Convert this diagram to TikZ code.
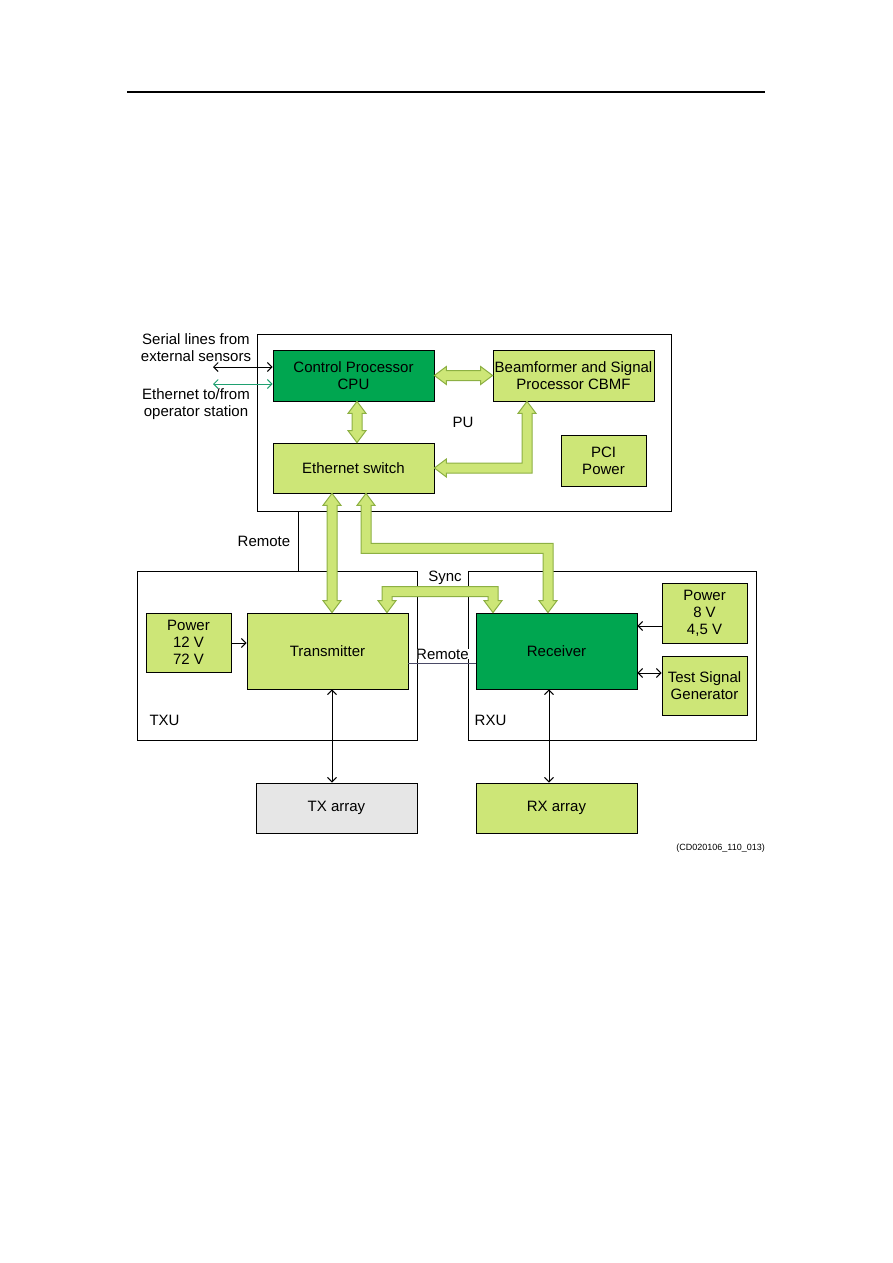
\documentclass[tikz,border=0pt]{standalone}
\usepackage{fontspec}
\setmainfont{Liberation Sans}
\usetikzlibrary{arrows.meta,calc}
\definecolor{lgreen}{HTML}{CDE677}
\definecolor{dgreen}{HTML}{00A650}
\definecolor{fatedge}{HTML}{8DB043}
\definecolor{ethgreen}{HTML}{1FA070}
\definecolor{txgray}{HTML}{E6E6E6}
\definecolor{remotec}{HTML}{4A4A66}
% vertical double fat arrow: #1 upper tip, #2 lower tip (x from #1)
\newcommand\fatV[2]{\path[fat] let \p1=#1, \p2=#2 in
  (\x1,\y1) -- (\x1+9pt,\y1-12pt) -- (\x1+5pt,\y1-12pt) -- (\x1+5pt,\y2+12pt) -- (\x1+9pt,\y2+12pt)
  -- (\x1,\y2) -- (\x1-9pt,\y2+12pt) -- (\x1-5pt,\y2+12pt) -- (\x1-5pt,\y1-12pt) -- (\x1-9pt,\y1-12pt) -- cycle;}
% horizontal double fat arrow: #1 left tip, #2 right tip (y from #1)
\newcommand\fatH[2]{\path[fat] let \p1=#1, \p2=#2 in
  (\x1,\y1) -- (\x1+12pt,\y1+9pt) -- (\x1+12pt,\y1+5pt) -- (\x2-12pt,\y1+5pt) -- (\x2-12pt,\y1+9pt)
  -- (\x2,\y1) -- (\x2-12pt,\y1-9pt) -- (\x2-12pt,\y1-5pt) -- (\x1+12pt,\y1-5pt) -- (\x1+12pt,\y1-9pt) -- cycle;}
\begin{document}
\begin{tikzpicture}[x=1pt,y=-1pt,
  every node/.style={font=\fontsize{15}{17}\selectfont},
  box/.style={draw=black,line width=0.8pt,align=center,inner sep=0pt},
  lbox/.style={box,fill=lgreen},
  dbox/.style={box,fill=dgreen},
  frame/.style={draw=black,line width=0.8pt,inner sep=0pt},
  fat/.style={fill=lgreen,draw=fatedge,line width=1pt,line join=miter},
  thin/.style={line width=1pt,{Straight Barb[length=4.5pt,width=9pt]}-{Straight Barb[length=4.5pt,width=9pt]}},
  thinr/.style={line width=1pt,-{Straight Barb[length=4.5pt,width=9pt]}},
  lbl/.style={inner sep=0pt,align=center}]
\useasboundingbox[fill=white] (0,0) rectangle (893,1263);

% top rule
\coordinate (ruleL) at (127,92);
\coordinate (ruleR) at (765,92);
\draw[line width=1.2pt] (ruleL) -- (ruleR);

% frames
\node[frame,minimum width=414pt,minimum height=177pt] (pu) at (464,422.5) {};
\node[frame,minimum width=280pt,minimum height=169pt] (txu) at (277,655.5) {};
\node[frame,minimum width=288pt,minimum height=169pt] (rxu) at (612,655.5) {};

% boxes in PU
\node[dbox,minimum width=161pt,minimum height=51pt] (cpu) at (353.5,375.5) {Control Processor\\CPU};
\node[lbox,minimum width=161pt,minimum height=51pt] (cbmf) at (573.5,375.5) {Beamformer and Signal\\Processor CBMF};
\node[lbox,minimum width=161pt,minimum height=50pt] (eth) at (353.5,468) {Ethernet switch};
\node[lbox,minimum width=85pt,minimum height=51pt] (pci) at (603.5,460.5) {PCI\\Power};
\node[lbl] (pulbl) at (463,422) {PU};

% TXU
\node[lbox,minimum width=85pt,minimum height=59pt] (pw12) at (188.5,642.5) {Power\\12 V\\72 V};
\node[lbox,minimum width=161pt,minimum height=76pt] (tx) at (327.5,651) {Transmitter};
\node[lbl] (txulbl) at (164.5,720) {TXU};

% RXU
\node[dbox,minimum width=161pt,minimum height=76pt] (rx) at (556.5,651) {Receiver};
\node[lbox,minimum width=85pt,minimum height=60pt] (pw8) at (704.5,613) {Power\\8 V\\4,5 V};
\node[lbox,minimum width=85pt,minimum height=59pt] (tsg) at (704.5,685.5) {Test Signal\\Generator};
\node[lbl] (rxulbl) at (490.5,720) {RXU};

% arrays
\node[box,fill=txgray,minimum width=161pt,minimum height=50pt] (txa) at (336.5,808) {TX array};
\node[lbox,minimum width=161pt,minimum height=50pt] (rxa) at (556.5,808) {RX array};

% external inputs
\node[lbl] (serial) at (196,347.5) {Serial lines from\\external sensors};
\node[lbl] (ethop) at (196,404.5) {Ethernet to/from\\operator station};
\coordinate (serL) at (213,367);
\coordinate (ethL) at (213,384);
\draw[thin] (serL) -- (serL -| cpu.west);
\draw[thin,ethgreen] (ethL) -- (ethL -| cpu.west);

% remote lines
\draw[line width=0.8pt] ([xshift=-166pt]pu.south) -- ([xshift=-166pt]pu.south |- txu.north);
\node[lbl] (rem1) at (264,541) {Remote};
\draw[line width=0.8pt,remotec] ([yshift=-12pt]tx.east) -- ([yshift=-12pt]tx.east -| rx.west);
\node[lbl,fill=white,inner xsep=0.5pt] (rem2) at (442.5,654) {Remote};

% thin arrows inside units
\draw[thinr] (pw12.east |- 0,643) -- (tx.west |- 0,643);
\draw[thinr] ([yshift=-13pt]pw8.west) -- ([yshift=-13pt]pw8.west -| rx.east);
\draw[thin] ([yshift=12.5pt]tsg.west -| rx.east) -- ([yshift=12.5pt]tsg.west);
\draw[thin] ([xshift=4.5pt]tx.south) -- ([xshift=4.5pt]tx.south |- txa.north);
\draw[thin] ([xshift=-7.5pt]rx.south) -- ([xshift=-7.5pt]rx.south |- rxa.north);

% fat arrows
\fatH{(cpu.east)}{(cbmf.west)}
\fatV{([xshift=3.5pt]cpu.south)}{([xshift=3.5pt]eth.north)}
% CBMF <-> Ethernet switch
\path[fat] let \p1=([xshift=-46.5pt]cbmf.south), \p2=(eth.east) in
  (\x1,\y1) -- (\x1+9pt,\y1-12pt) -- (\x1+5pt,\y1-12pt) -- (\x1+5pt,\y2-5pt) -- (\x2+12pt,\y2-5pt)
  -- (\x2+12pt,\y2-9pt) -- (\x2,\y2) -- (\x2+12pt,\y2+9pt) -- (\x2+12pt,\y2+5pt) -- (\x1-5pt,\y2+5pt)
  -- (\x1-5pt,\y1-12pt) -- (\x1-9pt,\y1-12pt) -- cycle;
% Ethernet switch <-> Transmitter
\fatV{([xshift=-21.5pt]eth.south)}{([xshift=-21.5pt]eth.south |- tx.north)}
% Ethernet switch <-> Receiver
\path[fat] let \p1=([xshift=12.5pt]eth.south), \p2=([xshift=-8.5pt]rx.north), \p3=([yshift=-55pt]eth.south) in
  (\x1,\y1) -- (\x1+9pt,\y1-12pt) -- (\x1+5pt,\y1-12pt) -- (\x1+5pt,\y3+5pt) -- (\x2+5pt,\y3+5pt)
  -- (\x2+5pt,\y2+12pt) -- (\x2+9pt,\y2+12pt) -- (\x2,\y2) -- (\x2-9pt,\y2+12pt) -- (\x2-5pt,\y2+12pt)
  -- (\x2-5pt,\y3-5pt) -- (\x1-5pt,\y3-5pt) -- (\x1-5pt,\y1-12pt) -- (\x1-9pt,\y1-12pt) -- cycle;
% Sync: Transmitter <-> Receiver
\path[fat] let \p1=([xshift=59.5pt]tx.north), \p2=([xshift=-63.5pt]rx.north), \p3=([yshift=21pt]tx.north) in
  (\x1,\y1) -- (\x1-9pt,\y1+12pt) -- (\x1-5pt,\y1+12pt) -- (\x1-5pt,\y3+5pt) -- (\x2+5pt,\y3+5pt)
  -- (\x2+5pt,\y2+12pt) -- (\x2+9pt,\y2+12pt) -- (\x2,\y2) -- (\x2-9pt,\y2+12pt) -- (\x2-5pt,\y2+12pt)
  -- (\x2-5pt,\y3-5pt) -- (\x1+5pt,\y3-5pt) -- (\x1+5pt,\y1+12pt) -- (\x1+9pt,\y1+12pt) -- cycle;
\node[lbl] (sync) at (445,578) {Sync};

% caption
\node[lbl,anchor=east,font=\fontsize{9}{11}\selectfont] (cap) at (765,848) {(CD020106\_110\_013)};
\end{tikzpicture}
\end{document}
